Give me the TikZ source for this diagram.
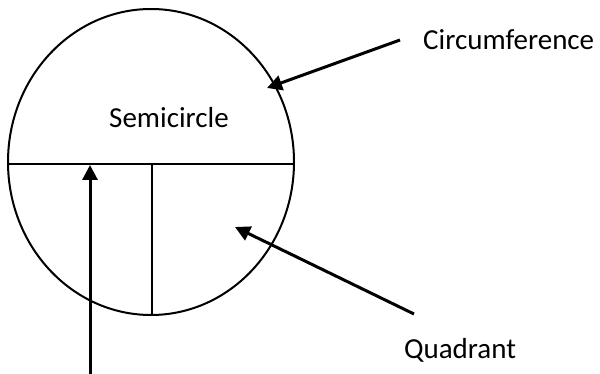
\documentclass[tikz,border=0pt]{standalone}
\usepackage{fontspec}
\setmainfont{Carlito}
\usetikzlibrary{arrows.meta}
\tikzset{
  label text/.style={font=\fontsize{29}{34}\selectfont,inner sep=0pt},
  pointer/.style={line width=3pt,-{Triangle[length=15pt,width=15pt]}}
}
\begin{document}
\begin{tikzpicture}[x=1pt,y=-1pt]
\useasboundingbox (0,0) rectangle (600,374);
\draw[line width=2pt] (151,162) ellipse[x radius=143,y radius=153];
\coordinate (chordL) at (8.3,164);
\coordinate (chordR) at (293.7,164);
\coordinate (chordM) at (152,164);
\coordinate (base) at (152,315);
\draw[line width=2pt] (chordL) -- (chordR);
\draw[line width=2pt] (chordM) -- (base);
\node[label text] (semi) at (169,118) {Semicircle};
\node[label text,anchor=west] (circum) at (423,40) {Circumference};
\node[label text] (quad) at (460,350) {Quadrant};
\coordinate (circumTail) at (400,40);
\coordinate (circumTip) at (267,88);
\coordinate (quadTail) at (414,314);
\coordinate (quadTip) at (235,227);
\coordinate (chordTail) at (90,380);
\coordinate (chordTip) at (90,165);
\draw[pointer] (circumTail) -- (circumTip);
\draw[pointer] (quadTail) -- (quadTip);
\draw[pointer] (chordTail) -- (chordTip);
\end{tikzpicture}
\end{document}
